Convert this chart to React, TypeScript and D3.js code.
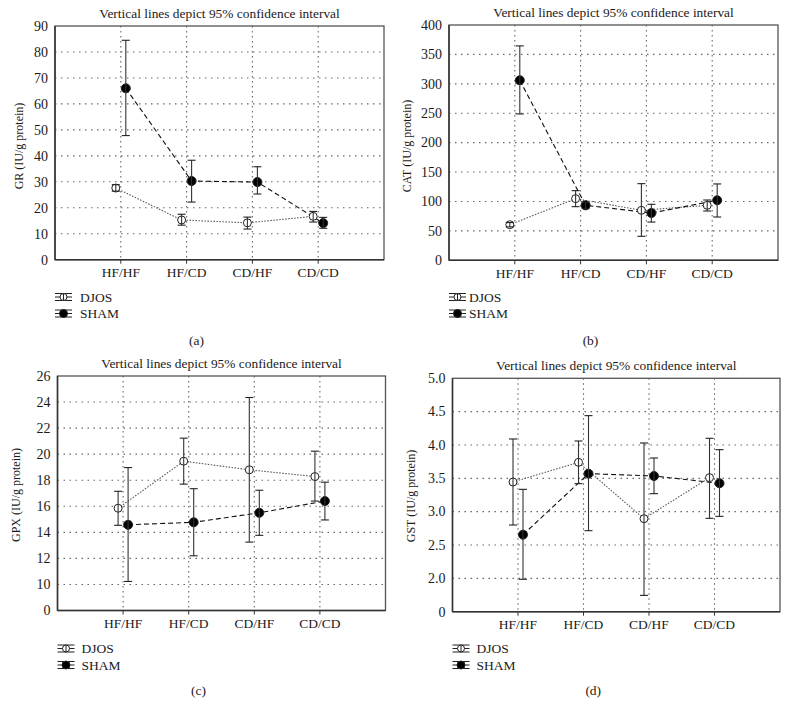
import React from "react";
import * as d3 from "d3";

const categories = ["HF/HF", "HF/CD", "CD/HF", "CD/CD"];
const seriesNames = ["DJOS", "SHAM"];
const titleText = "Vertical lines depict 95% confidence interval";

// GR (a)
const grDjosMean = [27.6, 15.3, 14.2, 16.7];
const grDjosLo = [26.4, 13.3, 11.8, 14.5];
const grDjosHi = [28.9, 17.5, 16.4, 18.6];
const grShamMean = [66.0, 30.3, 29.9, 14.1];
const grShamLo = [47.8, 22.2, 25.3, 12.1];
const grShamHi = [84.5, 38.3, 35.8, 16.3];
const grTicks = [0, 10, 20, 30, 40, 50, 60, 70, 80, 90];
const grTickLabels = ["0", "10", "20", "30", "40", "50", "60", "70", "80", "90"];

// CAT (b)
const catDjosMean = [60.5, 104.8, 85.0, 93.5];
const catDjosLo = [56.8, 91.2, 40.8, 83.8];
const catDjosHi = [64.2, 118.4, 130.3, 102.5];
const catShamMean = [306, 93.5, 80.4, 102];
const catShamLo = [248.8, 87.8, 65.0, 73.6];
const catShamHi = [364.5, 98.0, 95.2, 129.8];
const catTicks = [0, 50, 100, 150, 200, 250, 300, 350, 400];
const catTickLabels = ["0", "50", "100", "150", "200", "250", "300", "350", "400"];

// GPX (c) — broken axis: bottom tick labelled 0
const gpxDjosMean = [15.85, 19.46, 18.8, 18.28];
const gpxDjosLo = [14.54, 17.7, 13.25, 16.4];
const gpxDjosHi = [17.15, 21.23, 24.35, 20.23];
const gpxShamMean = [14.58, 14.77, 15.5, 16.4];
const gpxShamLo = [10.23, 12.2, 13.77, 14.95];
const gpxShamHi = [18.97, 17.35, 17.23, 17.85];
const gpxTicks = [8, 10, 12, 14, 16, 18, 20, 22, 24, 26];
const gpxTickLabels = ["0", "10", "12", "14", "16", "18", "20", "22", "24", "26"];

// GST (d) — broken axis: bottom tick labelled 0
const gstDjosMean = [3.445, 3.74, 2.895, 3.51];
const gstDjosLo = [2.8, 3.42, 1.745, 2.9];
const gstDjosHi = [4.09, 4.06, 4.03, 4.1];
const gstShamMean = [2.655, 3.57, 3.535, 3.426];
const gstShamLo = [1.986, 2.715, 3.27, 2.93];
const gstShamHi = [3.335, 4.44, 3.805, 3.93];
const gstTicks = [1.5, 2.0, 2.5, 3.0, 3.5, 4.0, 4.5, 5.0];
const gstTickLabels = ["0", "2.0", "2.5", "3.0", "3.5", "4.0", "4.5", "5.0"];

const FONT = "'Liberation Serif', 'DejaVu Serif', serif";
const TXT = "#1a1a1a";

type Panel = {
  key: string;
  yLabel: string;
  caption: string;
  left: number; right: number; top: number; bottom: number;
  ticks: number[]; tickLabels: string[];
  domain: [number, number];
  djos: [number[], number[], number[]];
  sham: [number[], number[], number[]];
  ylabX: number; ylabY: number;
  legY: number; legTextDx: number;
  capY: number;
};

const panels: Panel[] = [
  {
    key: "a", yLabel: "GR (IU/g protein)", caption: "(a)",
    left: 55, right: 384, top: 26, bottom: 259.7,
    ticks: grTicks, tickLabels: grTickLabels, domain: [0, 90],
    djos: [grDjosMean, grDjosLo, grDjosHi], sham: [grShamMean, grShamLo, grShamHi],
    ylabX: 19, ylabY: 146, legY: 297, legTextDx: 25, capY: 340,
  },
  {
    key: "b", yLabel: "CAT (IU/g protein)", caption: "(b)",
    left: 449, right: 778, top: 25, bottom: 260.3,
    ticks: catTicks, tickLabels: catTickLabels, domain: [0, 400],
    djos: [catDjosMean, catDjosLo, catDjosHi], sham: [catShamMean, catShamLo, catShamHi],
    ylabX: 407, ylabY: 146, legY: 297, legTextDx: 20, capY: 340,
  },
  {
    key: "c", yLabel: "GPX (IU/g protein)", caption: "(c)",
    left: 57.5, right: 385.5, top: 376, bottom: 610.5,
    ticks: gpxTicks, tickLabels: gpxTickLabels, domain: [8, 26],
    djos: [gpxDjosMean, gpxDjosLo, gpxDjosHi], sham: [gpxShamMean, gpxShamLo, gpxShamHi],
    ylabX: 16, ylabY: 495, legY: 648.5, legTextDx: 24, capY: 690,
  },
  {
    key: "d", yLabel: "GST (IU/g protein)", caption: "(d)",
    left: 452.5, right: 780, top: 378.3, bottom: 611.7,
    ticks: gstTicks, tickLabels: gstTickLabels, domain: [1.5, 5],
    djos: [gstDjosMean, gstDjosLo, gstDjosHi], sham: [gstShamMean, gstShamLo, gstShamHi],
    ylabX: 411, ylabY: 496, legY: 648.5, legTextDx: 24, capY: 690,
  },
];

function ChartPanel({ p }: { p: Panel }) {
  const x = d3.scaleLinear().domain([0, 5]).range([p.left, p.right]);
  const y = d3.scaleLinear().domain(p.domain).range([p.bottom, p.top]);
  const off = 5;
  const series = [
    { name: seriesNames[0], data: p.djos, dx: -off, dash: "1.5,1.5", stroke: "#555", filled: false, r: 4 },
    { name: seriesNames[1], data: p.sham, dx: off, dash: "5,3", stroke: "#111", filled: true, r: 4.5 },
  ];
  const cx = (p.left + p.right) / 2;
  return (
    <g>
      <text x={cx} y={p.top - 8.5} textAnchor="middle" fontSize={13.4} fill={TXT} fontFamily={FONT}>{titleText}</text>
      {/* horizontal grid */}
      {p.ticks.slice(1, -1).map((t) => (
        <line key={"h" + t} x1={p.left} x2={p.right} y1={y(t)} y2={y(t)} stroke="#666" strokeWidth={1.1} strokeDasharray="1.5,4.5" />
      ))}
      {/* vertical grid */}
      {categories.map((c, i) => (
        <line key={"v" + c} x1={x(i + 1)} x2={x(i + 1)} y1={p.top} y2={p.bottom} stroke="#666" strokeWidth={1.1} strokeDasharray="1.5,3.5" />
      ))}
      {/* frame */}
      <rect x={p.left} y={p.top} width={p.right - p.left} height={p.bottom - p.top} fill="none" stroke="#555" strokeWidth={1.3} />
      <line x1={p.left} x2={p.left} y1={p.top} y2={p.bottom} stroke="#333" strokeWidth={1.5} />
      <line x1={p.left} x2={p.right} y1={p.bottom} y2={p.bottom} stroke="#333" strokeWidth={1.5} />
      {/* ticks */}
      {p.ticks.map((t, i) => (
        <text key={"yt" + t} x={p.left - 7} y={y(t) + 4.8} textAnchor="end" fontSize={14} fill={TXT} fontFamily={FONT}>{p.tickLabels[i]}</text>
      ))}
      {categories.map((c, i) => (
        <g key={"xt" + c}>
          <line x1={x(i + 1)} x2={x(i + 1)} y1={p.bottom} y2={p.bottom + 4} stroke="#333" />
          <text x={x(i + 1)} y={p.bottom + 17.5} textAnchor="middle" fontSize={13.5} fill={TXT} fontFamily={FONT}>{c}</text>
        </g>
      ))}
      <text transform={`translate(${p.ylabX + 4},${p.ylabY}) rotate(-90)`} textAnchor="middle" fontSize={12} fill={TXT} fontFamily={FONT}>{p.yLabel}</text>
      {/* lines */}
      {series.map((s) => {
        const line = d3.line<number>().x((_, i) => x(i + 1) + s.dx).y((v) => y(v));
        return <path key={"l" + s.name} d={line(s.data[0]) || ""} fill="none" stroke={s.stroke} strokeWidth={1.1} strokeDasharray={s.dash} />;
      })}
      {/* markers + error bars */}
      {series.map((s) => (
        <g key={"m" + s.name}>
          {s.data[0].map((v, i) => {
            const px = x(i + 1) + s.dx;
            return (
              <g key={i}>
                <circle cx={px} cy={y(v)} r={s.r} fill={s.filled ? "#000" : "#fff"} stroke="#222" strokeWidth={1} />
                <line x1={px} x2={px} y1={y(s.data[1][i])} y2={y(s.data[2][i])} stroke="#333" strokeWidth={1.1} />
                <line x1={px - 4} x2={px + 4} y1={y(s.data[1][i])} y2={y(s.data[1][i])} stroke="#222" strokeWidth={1.1} />
                <line x1={px - 4} x2={px + 4} y1={y(s.data[2][i])} y2={y(s.data[2][i])} stroke="#222" strokeWidth={1.1} />
              </g>
            );
          })}
        </g>
      ))}
      {/* legend */}
      {series.map((s, k) => {
        const ly = p.legY + k * 16.5;
        const lx = p.left;
        return (
          <g key={"lg" + s.name}>
            {[-3.5, 0, 3.5].map((dy) => (
              <line key={dy} x1={lx} x2={lx + 17} y1={ly + dy} y2={ly + dy} stroke="#222" strokeWidth={1} />
            ))}
            <circle cx={lx + 8.5} cy={ly} r={s.filled ? 4 : 3.5} fill={s.filled ? "#000" : "#fff"} stroke="#222" strokeWidth={1} />
            {!s.filled && <line x1={lx + 8.5} x2={lx + 8.5} y1={ly - 3.5} y2={ly + 3.5} stroke="#222" strokeWidth={1} />}
            <text x={lx + p.legTextDx} y={ly + 4.5} fontSize={13.5} fill={TXT} fontFamily={FONT}>{s.name}</text>
          </g>
        );
      })}
      <text x={cx - 23} y={p.capY + 4.5} textAnchor="middle" fontSize={13.5} fill={TXT} fontFamily={FONT}>{p.caption}</text>
    </g>
  );
}

export default function App() {
  return (
    <svg width={789} height={717} style={{ position: "absolute", left: 0, top: 0, background: "#fff" }}>
      <rect width={789} height={717} fill="#fff" />
      {panels.map((p) => (
        <ChartPanel key={p.key} p={p} />
      ))}
    </svg>
  );
}
